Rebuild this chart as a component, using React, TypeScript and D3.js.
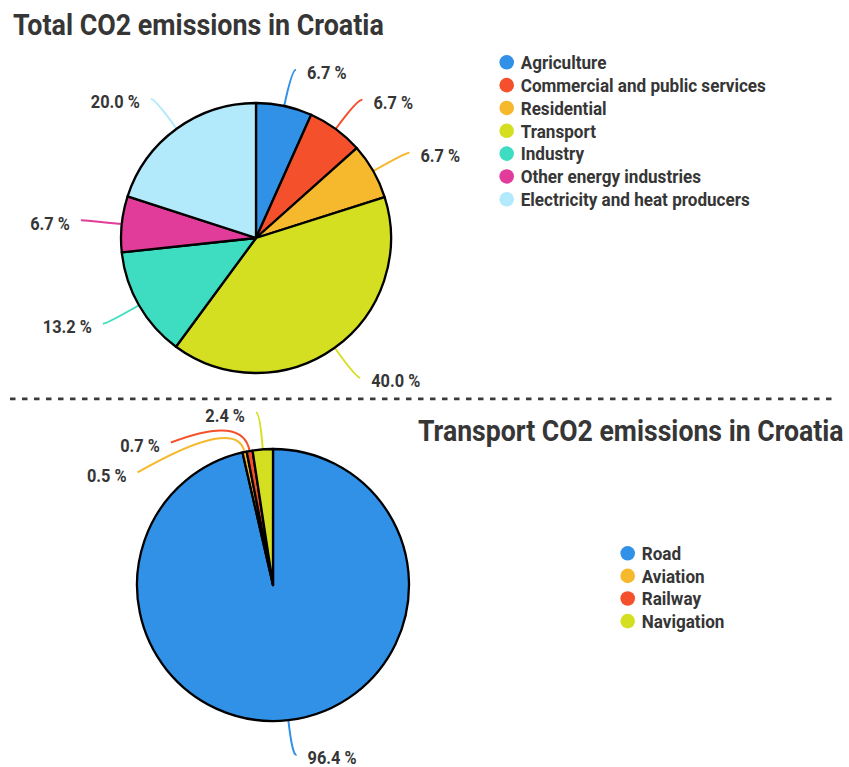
import React from "react";
import * as d3 from "d3";

const totalTitle = "Total CO2 emissions in Croatia";
const totalCategories = [
  "Agriculture",
  "Commercial and public services",
  "Residential",
  "Transport",
  "Industry",
  "Other energy industries",
  "Electricity and heat producers",
];
const totalValues = [6.7, 6.7, 6.7, 40.0, 13.2, 6.7, 20.0];
const totalColors = ["#3091E7", "#F4502B", "#F6B82C", "#D5DF22", "#3EDDC2", "#E23C9A", "#B3EAFB"];

const transportTitle = "Transport CO2 emissions in Croatia";
const transportCategories = ["Road", "Aviation", "Railway", "Navigation"];
const transportValues = [96.4, 0.5, 0.7, 2.4];
const transportColors = ["#3091E7", "#F6B82C", "#F4502B", "#D5DF22"];

const W = 849;
const H = 767;
const TEXT = "#363636";
const FONT = "Roboto, 'Noto Sans', sans-serif";
const K = 0.91;

// horizontal condensing about the text anchor x
const cond = (x: number, k: number = K) => `translate(${x} 0) scale(${k} 1) translate(${-x} 0)`;

type LabelItem = {
  i: number;
  side: number;
  ex: number;
  ey: number;
  cxp: number;
  cyp: number;
  x: number;
  y: number;
};

function layoutLabels(
  arcs: d3.PieArcDatum<number>[],
  cx: number,
  cy: number,
  r: number,
  R: number,
  gap: number,
  maxY: number
): LabelItem[] {
  const items: LabelItem[] = arcs.map((a, i) => {
    const mid = (a.startAngle + a.endAngle) / 2;
    const s = Math.sin(mid);
    const c = Math.cos(mid);
    return {
      i,
      side: s >= 0 ? 1 : -1,
      ex: cx + r * s,
      ey: cy - r * c,
      cxp: cx + R * s,
      cyp: cy - R * c,
      x: cx + R * s,
      y: cy - R * c,
    };
  });
  [1, -1].forEach((side) => {
    const list = items.filter((d) => d.side === side).sort((a, b) => a.y - b.y);
    for (let k = 1; k < list.length; k++) {
      if (list[k].y < list[k - 1].y + gap) {
        list[k].y = list[k - 1].y + gap;
        const dy = list[k].y - cy;
        list[k].x = cx + side * Math.sqrt(Math.max(0, R * R - dy * dy));
      }
    }
  });
  items.forEach((d) => {
    if (d.y > maxY) d.y = maxY;
  });
  return items;
}

function Pie(props: {
  values: number[];
  colors: string[];
  cx: number;
  cy: number;
  r: number;
}) {
  const { values, colors, cx, cy, r } = props;
  const pie = d3.pie<number>().sort(null).value((d) => d).startAngle(0).endAngle(2 * Math.PI);
  const arcs = pie(values);
  const arcGen = d3.arc<d3.PieArcDatum<number>>().innerRadius(0).outerRadius(r);
  const labels = layoutLabels(arcs, cx, cy, r, r + 37, 30, H - 12.5);
  const hook = 4;
  const fs = 18;
  return (
    <g>
      {labels.map((l) => {
        const qx = l.x + l.side * hook;
        const qy = l.y;
        return (
          <path
            key={"t" + l.i}
            d={`M${l.ex},${l.ey} Q${l.cxp},${l.cyp} ${qx},${qy}`}
            fill="none"
            stroke={colors[l.i]}
            strokeWidth={2}
          />
        );
      })}
      <g transform={`translate(${cx},${cy})`}>
        {arcs.map((a, i) => (
          <path
            key={i}
            d={arcGen(a) || ""}
            fill={colors[i]}
            stroke="#000"
            strokeWidth={2.3}
            strokeLinejoin="round"
          />
        ))}
      </g>
      {labels.map((l) => {
        const tx = l.x + l.side * (hook + 11);
        return (
          <text
            key={"l" + l.i}
            x={tx}
            y={l.y + 9.5}
            transform={cond(tx)}
            textAnchor={l.side > 0 ? "start" : "end"}
            fontSize={fs}
            fontWeight={700}
            fontFamily={FONT}
            fill={TEXT}
          >
            {values[l.i].toFixed(1) + " %"}
          </text>
        );
      })}
    </g>
  );
}

function Legend(props: {
  items: string[];
  colors: string[];
  x: number;
  y: number;
  step: number;
}) {
  const { items, colors, x, y, step } = props;
  const fs = 19;
  return (
    <g>
      {items.map((name, i) => (
        <g key={name} transform={`translate(${x},${y + i * step})`}>
          <circle cx={0} cy={0} r={7.3} fill={colors[i]} />
          <text
            x={14}
            y={0.355 * fs}
            transform={cond(14, 0.9)}
            fontSize={fs}
            fontWeight={700}
            fontFamily={FONT}
            fill={TEXT}
          >
            {name}
          </text>
        </g>
      ))}
    </g>
  );
}

export default function App() {
  return (
    <div style={{ position: "absolute", left: 0, top: 0, width: W, height: H, background: "#fff" }}>
      <svg width={W} height={H} style={{ display: "block" }}>
        <rect width={W} height={H} fill="#fff" />
        <text
          x={13}
          y={35}
          transform={cond(13)}
          fontSize={29.5}
          fontWeight={700}
          fontFamily={FONT}
          fill={TEXT}
        >
          {totalTitle}
        </text>
        <Pie values={totalValues} colors={totalColors} cx={256} cy={238} r={135} />
        <Legend items={totalCategories} colors={totalColors} x={506.7} y={62.3} step={22.83} />

        <line
          x1={10}
          x2={838}
          y1={398.8}
          y2={398.8}
          stroke="#3a3a3a"
          strokeWidth={2.7}
          strokeDasharray="5.5 6.5"
        />

        <text
          x={418}
          y={441}
          transform={cond(418, 0.903)}
          fontSize={29.5}
          fontWeight={700}
          fontFamily={FONT}
          fill={TEXT}
        >
          {transportTitle}
        </text>
        <Pie values={transportValues} colors={transportColors} cx={273} cy={585} r={136} />
        <Legend items={transportCategories} colors={transportColors} x={627.7} y={553.3} step={22.6} />
      </svg>
    </div>
  );
}
